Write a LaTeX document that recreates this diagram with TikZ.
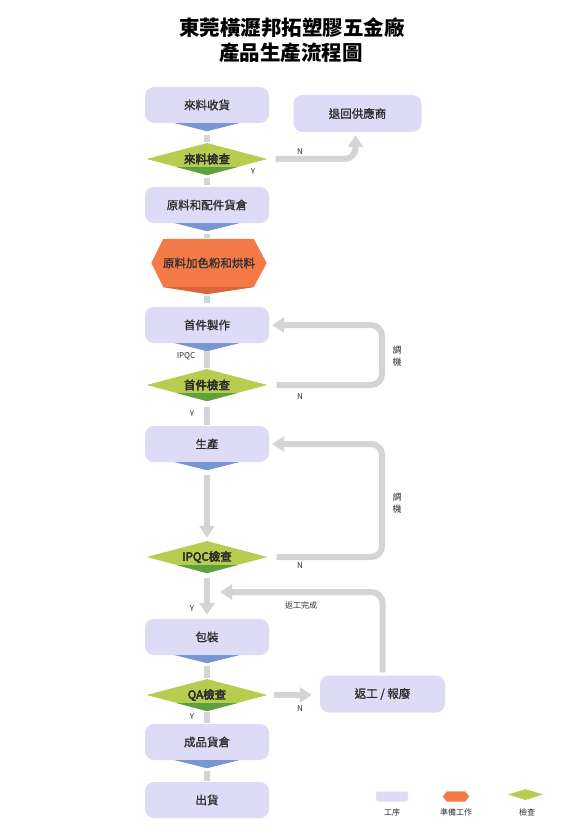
\documentclass[tikz,border=0pt]{standalone}
\usepackage{fontspec}
\setmainfont{Noto Sans CJK TC}
\newfontfamily\medfont{Noto Sans CJK TC}[FakeBold=1.2]
\usetikzlibrary{shapes.geometric,arrows.meta,calc}
\definecolor{lav}{HTML}{DEDBF6}
\definecolor{triblue}{HTML}{7A96D2}
\definecolor{lgreen}{HTML}{B8CC50}
\definecolor{dgreen}{HTML}{5E9F3E}
\definecolor{orng}{HTML}{F47A47}
\definecolor{dorng}{HTML}{D8673C}
\definecolor{cgray}{HTML}{D4D4D4}
\definecolor{txt}{HTML}{2E2E2E}
\tikzset{
  procbox/.style={rectangle,rounded corners=9pt,fill=lav,minimum width=124pt,minimum height=36pt,inner sep=0pt,font=\fontsize{11.5}{13}\medfont,text=txt},
  checkbox/.style={diamond,fill=lgreen,minimum width=121pt,minimum height=32pt,inner sep=0pt,aspect=3.8,font=\fontsize{11.5}{13}\medfont,text=txt},
  prepbox/.style={rectangle,minimum width=115pt,minimum height=48pt,inner sep=0pt,font=\fontsize{11.5}{13}\medfont,text=txt},
  conn/.style={draw=cgray,line width=6pt},
  connarrow/.style={draw=cgray,line width=6pt,rounded corners=11pt,-{Triangle[width=15pt,length=12pt]}},
  lbl/.style={font=\fontsize{8}{9}\selectfont,text=txt,inner sep=0pt},
  lbltwo/.style={font=\fontsize{9}{12}\selectfont,text=txt,inner sep=0pt,align=center},
}
\newcommand{\bluetri}[1]{\fill[triblue] ($(#1.south)+(-32,0)$) -- ($(#1.south)+(32,0)$) -- ($(#1.south)+(0,8)$) -- cycle;}
\newcommand{\darktip}[1]{\fill[dgreen] ($(#1.south)!0.5!(#1.west)$) -- ($(#1.south)!0.5!(#1.east)$) -- (#1.south) -- cycle;}
\begin{document}
\begin{tikzpicture}[x=1pt,y=-1pt]
\useasboundingbox (0,0) rectangle (585,837);
\fill[white] (0,0) rectangle (585,837);
% title
\node[font=\fontsize{20.5}{24}\selectfont\bfseries,text=black,inner sep=0pt] (t1) at (292,28) {東莞橫瀝邦拓塑膠五金廠};
\node[font=\fontsize{20.5}{24}\selectfont\bfseries,text=black,inner sep=0pt] (t2) at (291,53) {產品生產流程圖};

% main column
\node[procbox] (b1) at (207,105) {來料收貨};
\node[checkbox] (d2) at (207,159) {來料檢查};
\node[procbox] (b3) at (207,205) {原料和配件貨倉};
\node[prepbox] (h4) at (209,263) {};
\node[procbox] (b5) at (207,325) {首件製作};
\node[checkbox] (d6) at (207,385) {首件檢查};
\node[procbox] (b7) at (207,444) {生產};
\node[checkbox] (d8) at (207,557) {IPQC檢查};
\node[procbox] (b9) at (207,637) {包裝};
\node[checkbox] (d10) at (207,695) {QA檢查};
\node[procbox] (b11) at (207,742) {成品貨倉};
\node[procbox] (b12) at (207,800) {出貨};
\node[procbox,minimum width=128pt,minimum height=37pt] (r1) at (357.5,113.5) {退回供應商};
\node[procbox,minimum width=125pt,minimum height=37pt] (r2) at (382.5,694) {返工 / 報廢};

% hexagon
\fill[orng] (h4.west) -- ($(h4.north west)+(12,0)$) -- ($(h4.north east)+(-13,0)$) -- (h4.east) -- ($(h4.south east)+(-13,0)$) -- ($(h4.south west)+(12,0)$) -- cycle;
\fill[dorng] ($(h4.south west)+(12,0)$) -- ($(h4.south east)+(-13,0)$) -- ($(h4.south)+(-2,7)$) -- cycle;
\node[prepbox] at (h4.center) {原料加色粉和烘料};

% triangles and dark tips
\bluetri{b1}\bluetri{b3}\bluetri{b5}\bluetri{b7}\bluetri{b9}\bluetri{b11}
\darktip{d2}\darktip{d6}\darktip{d8}\darktip{d10}
\node[checkbox,fill=none] at (d2.center) {來料檢查};
\node[checkbox,fill=none] at (d6.center) {首件檢查};
\node[checkbox,fill=none] at (d8.center) {IPQC檢查};
\node[checkbox,fill=none] at (d10.center) {QA檢查};

% straight connectors
\draw[conn] ($(b1.south)+(0,12)$) -- ($(d2.north)+(0,-1)$);
\draw[conn] ($(d2.south)+(0,3)$) -- ($(b3.north)+(0,-2)$);
\draw[conn] ($(b3.south)+(0,11)$) -- ($(h4.north)+(-2,-1)$);
\draw[conn] ($(h4.south)+(-2,9)$) -- ($(b5.north)+(0,-4)$);
\draw[conn] ($(b5.south)+(0,8)$) -- ($(d6.north)+(0,-1)$);
\draw[conn] ($(d6.south)+(0,6)$) -- ($(b7.north)+(0,-1)$);
\draw[connarrow] ($(b7.south)+(0,13)$) -- ($(d8.north)+(0,-3)$);
\draw[connarrow] ($(d8.south)+(0,5)$) -- ($(b9.north)+(0,-4)$);
\draw[conn] ($(b9.south)+(0,11)$) -- ($(d10.north)+(0,-1)$);
\draw[conn] ($(d10.south)+(0,1)$) -- ($(b11.north)+(0,-1)$);
\draw[conn] ($(b11.south)+(0,11)$) -- ($(b12.north)+(0,-1)$);

% loops
\draw[connarrow] ($(d2.east)+(8,0)$) -| ($(r1.south)+(-2,3)$);
\draw[connarrow] ($(d6.east)+(9,0)$) -- (382,385) -- (382,325) -- ($(b5.east)+(3,0)$);
\draw[connarrow] ($(d8.east)+(9,0)$) -- (382,557) -- (382,444) -- ($(b7.east)+(3,0)$);
\draw[connarrow] ($(d10.east)+(6,0)$) -- ($(r2.west |- d10.east)+(-8,0)$);
\coordinate (m) at (220,592);
\draw[connarrow] ($(r2.north)+(0,-3)$) |- (m);

% labels
\node[lbl] (n1) at (300,152) {N};
\node[lbl] (y1) at (253,172) {Y};
\node[lbl] (ipqc) at (186,356) {IPQC};
\node[lbl] (n2) at (300,397) {N};
\node[lbltwo] (tj1) at (397,356) {調\\機};
\node[lbl] (y2) at (192,414) {Y};
\node[lbl] (n3) at (300,566) {N};
\node[lbltwo] (tj2) at (397,503) {調\\機};
\node[lbl] (y3) at (192,609) {Y};
\node[lbl] (fg) at (301,605) {返工完成};
\node[lbl] (n4) at (300,709) {N};
\node[lbl] (y4) at (192,717) {Y};

% legend
\node[rectangle,rounded corners=2.5pt,fill=lav,minimum width=32pt,minimum height=10pt,inner sep=0pt] (lg1) at (392,796.5) {};
\node[prepbox,minimum width=26pt,minimum height=10pt] (lg2) at (456,796.5) {};
\fill[orng] (lg2.west) -- ($(lg2.north west)+(4,0)$) -- ($(lg2.north east)+(-4,0)$) -- (lg2.east) -- ($(lg2.south east)+(-4,0)$) -- ($(lg2.south west)+(4,0)$) -- cycle;
\node[diamond,fill=lgreen,minimum width=35pt,minimum height=11pt,inner sep=0pt,aspect=3] (lg3) at (525.5,794.5) {};
\node[lbl] (lt1) at (392,812.5) {工序};
\node[lbl] (lt2) at (456,812.5) {準備工作};
\node[lbl] (lt3) at (527,812.5) {檢查};
\end{tikzpicture}
\end{document}
